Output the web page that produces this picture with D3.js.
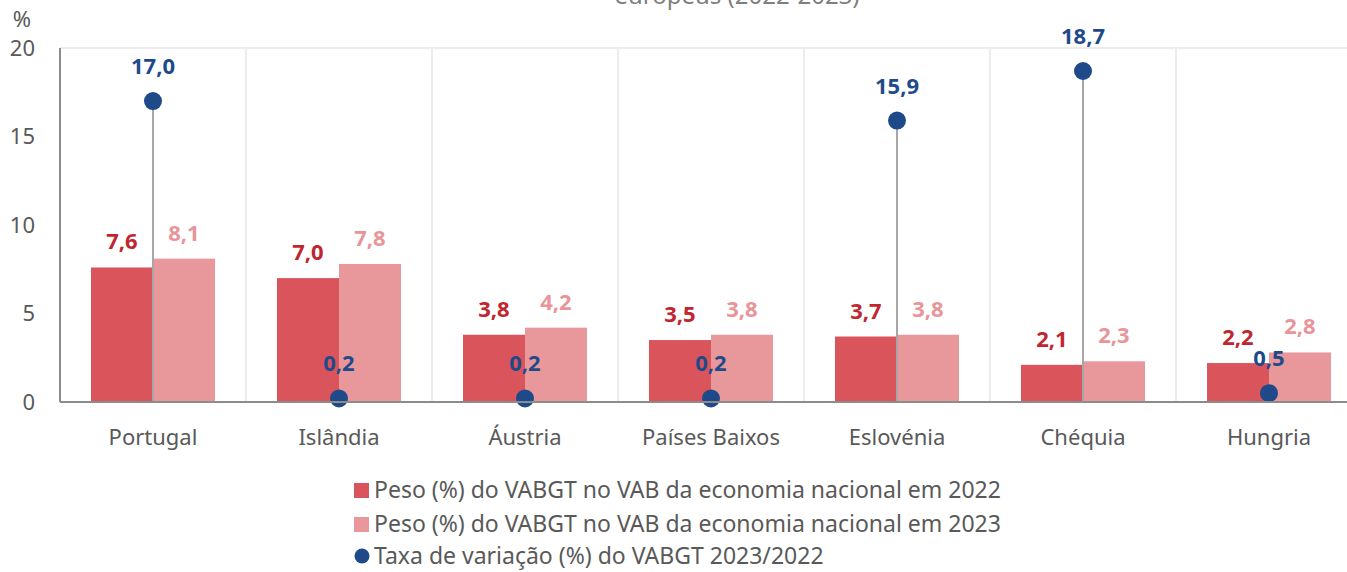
<!DOCTYPE html>
<html>
<head>
<meta charset="utf-8">
<script src="https://cdn.jsdelivr.net/npm/d3@7"></script>
<style>
  body { margin: 0; background: #fff; }
  svg { display: block; font-family: "Noto Sans", "Open Sans", sans-serif; }
</style>
</head>
<body>
<div id="chart"></div>
<script>
// Data
const categories = ["Portugal", "Islândia", "Áustria", "Países Baixos", "Eslovénia", "Chéquia", "Hungria"];
const peso2022 = [7.6, 7.0, 3.8, 3.5, 3.7, 2.1, 2.2];
const peso2023 = [8.1, 7.8, 4.2, 3.8, 3.8, 2.3, 2.8];
const taxaVariacao = [17.0, 0.2, 0.2, 0.2, 15.9, 18.7, 0.5];
const yTicks = [0, 5, 10, 15, 20];
const seriesNames = [
    "Peso (%) do VABGT no VAB da economia nacional em 2022",
    "Peso (%) do VABGT no VAB da economia nacional em 2023",
    "Taxa de variação (%) do VABGT 2023/2022"
];
const titleTail = "europeus (2022-2023)";

const width = 1347, height = 572;
const margin = { top: 48, left: 60, bottom: 402 };
const bandWidth = 186;

const colors = {
    bar22: "#d9545b",
    bar23: "#e8979b",
    label22: "#c0262f",
    label23: "#e8959a",
    dot: "#1f4a8a",
    stem: "#a6a6a6",
    axis: "#8c8c8c",
    grid: "#ececec",
    text: "#595959"
};

const fmt = v => v.toFixed(1).replace(".", ",");

const svg = d3.select("#chart")
    .append("svg")
    .attr("width", width)
    .attr("height", height);

// Scales
const x0 = d3.scaleBand()
    .domain(categories)
    .range([margin.left, margin.left + bandWidth * categories.length])
    .padding(0);

const x1 = d3.scaleBand()
    .domain(["2022", "2023"])
    .range([0, x0.bandwidth()])
    .paddingInner(0)
    .paddingOuter(0.5);

const y = d3.scaleLinear()
    .domain([0, 20])
    .range([margin.bottom, margin.top]);

// Title (only the lower part is visible)
svg.append("text")
    .attr("x", 737)
    .attr("y", 4)
    .attr("text-anchor", "middle")
    .attr("font-size", 24)
    .attr("fill", "#7f7f7f")
    .text(titleTail);

// Gridlines: top line and vertical category separators
svg.append("line")
    .attr("x1", margin.left)
    .attr("x2", width)
    .attr("y1", y(20))
    .attr("y2", y(20))
    .attr("stroke", colors.grid)
    .attr("stroke-width", 2);

svg.selectAll(".vgrid")
    .data(categories.slice(1))
    .enter()
    .append("line")
    .attr("class", "vgrid")
    .attr("x1", d => x0(d))
    .attr("x2", d => x0(d))
    .attr("y1", y(20))
    .attr("y2", y(0))
    .attr("stroke", colors.grid)
    .attr("stroke-width", 2);

// Bars
const groups = svg.selectAll(".group")
    .data(categories)
    .enter()
    .append("g")
    .attr("class", "group")
    .attr("transform", d => `translate(${x0(d)},0)`);

groups.append("rect")
    .attr("x", x1("2022"))
    .attr("width", x1.bandwidth())
    .attr("y", (d, i) => y(peso2022[i]))
    .attr("height", (d, i) => y(0) - y(peso2022[i]))
    .attr("fill", colors.bar22);

groups.append("rect")
    .attr("x", x1("2023"))
    .attr("width", x1.bandwidth())
    .attr("y", (d, i) => y(peso2023[i]))
    .attr("height", (d, i) => y(0) - y(peso2023[i]))
    .attr("fill", colors.bar23);

// Axes lines
svg.append("line")
    .attr("x1", margin.left)
    .attr("x2", margin.left)
    .attr("y1", y(20))
    .attr("y2", y(0))
    .attr("stroke", colors.axis)
    .attr("stroke-width", 2);

svg.append("line")
    .attr("x1", margin.left)
    .attr("x2", width)
    .attr("y1", y(0))
    .attr("y2", y(0))
    .attr("stroke", colors.axis)
    .attr("stroke-width", 2);

// Lollipop stems and dots
const center = d => x0(d) + x0.bandwidth() / 2;

groups.append("line")
    .attr("x1", x0.bandwidth() / 2)
    .attr("x2", x0.bandwidth() / 2)
    .attr("y1", (d, i) => y(taxaVariacao[i]))
    .attr("y2", y(0))
    .attr("stroke", colors.stem)
    .attr("stroke-width", 2);

groups.append("circle")
    .attr("cx", x0.bandwidth() / 2)
    .attr("cy", (d, i) => y(taxaVariacao[i]))
    .attr("r", 9)
    .attr("fill", colors.dot);

// Bar value labels
groups.append("text")
    .attr("x", x1("2022") + x1.bandwidth() / 2)
    .attr("y", (d, i) => y(peso2022[i]) - 18)
    .attr("text-anchor", "middle")
    .attr("font-size", 22)
    .attr("font-weight", "bold")
    .attr("fill", colors.label22)
    .text((d, i) => fmt(peso2022[i]));

groups.append("text")
    .attr("x", x1("2023") + x1.bandwidth() / 2)
    .attr("y", (d, i) => y(peso2023[i]) - 18)
    .attr("text-anchor", "middle")
    .attr("font-size", 22)
    .attr("font-weight", "bold")
    .attr("fill", colors.label23)
    .text((d, i) => fmt(peso2023[i]));

// Dot value labels
groups.append("text")
    .attr("x", x0.bandwidth() / 2)
    .attr("y", (d, i) => y(taxaVariacao[i]) - 27)
    .attr("text-anchor", "middle")
    .attr("font-size", 22)
    .attr("font-weight", "bold")
    .attr("fill", colors.dot)
    .text((d, i) => fmt(taxaVariacao[i]));

// Y tick labels
svg.selectAll(".ytick")
    .data(yTicks)
    .enter()
    .append("text")
    .attr("class", "ytick")
    .attr("x", 35)
    .attr("y", d => y(d))
    .attr("dy", "0.35em")
    .attr("text-anchor", "end")
    .attr("font-size", 22)
    .attr("fill", colors.text)
    .text(d => d);

svg.append("text")
    .attr("x", 22)
    .attr("y", 27)
    .attr("text-anchor", "middle")
    .attr("font-size", 22)
    .attr("fill", colors.text)
    .text("%");

// X category labels
svg.selectAll(".xlabel")
    .data(categories)
    .enter()
    .append("text")
    .attr("class", "xlabel")
    .attr("x", d => center(d))
    .attr("y", 437)
    .attr("dy", "0.35em")
    .attr("text-anchor", "middle")
    .attr("font-size", 22)
    .attr("fill", colors.text)
    .text(d => d);

// Legend
const legendY = [490, 524, 556];
const legend = svg.selectAll(".legend")
    .data(seriesNames)
    .enter()
    .append("g")
    .attr("class", "legend")
    .attr("transform", (d, i) => `translate(354,${legendY[i]})`);

legend.filter((d, i) => i < 2)
    .append("rect")
    .attr("x", 0)
    .attr("y", -7)
    .attr("width", 15)
    .attr("height", 15)
    .attr("fill", (d, i) => i === 0 ? colors.bar22 : colors.bar23);

legend.filter((d, i) => i === 2)
    .append("circle")
    .attr("cx", 8)
    .attr("cy", 0)
    .attr("r", 7.5)
    .attr("fill", colors.dot);

legend.append("text")
    .attr("x", 20)
    .attr("y", 0)
    .attr("dy", "0.35em")
    .attr("font-size", 23)
    .attr("fill", colors.text)
    .text(d => d);
</script>
</body>
</html>
